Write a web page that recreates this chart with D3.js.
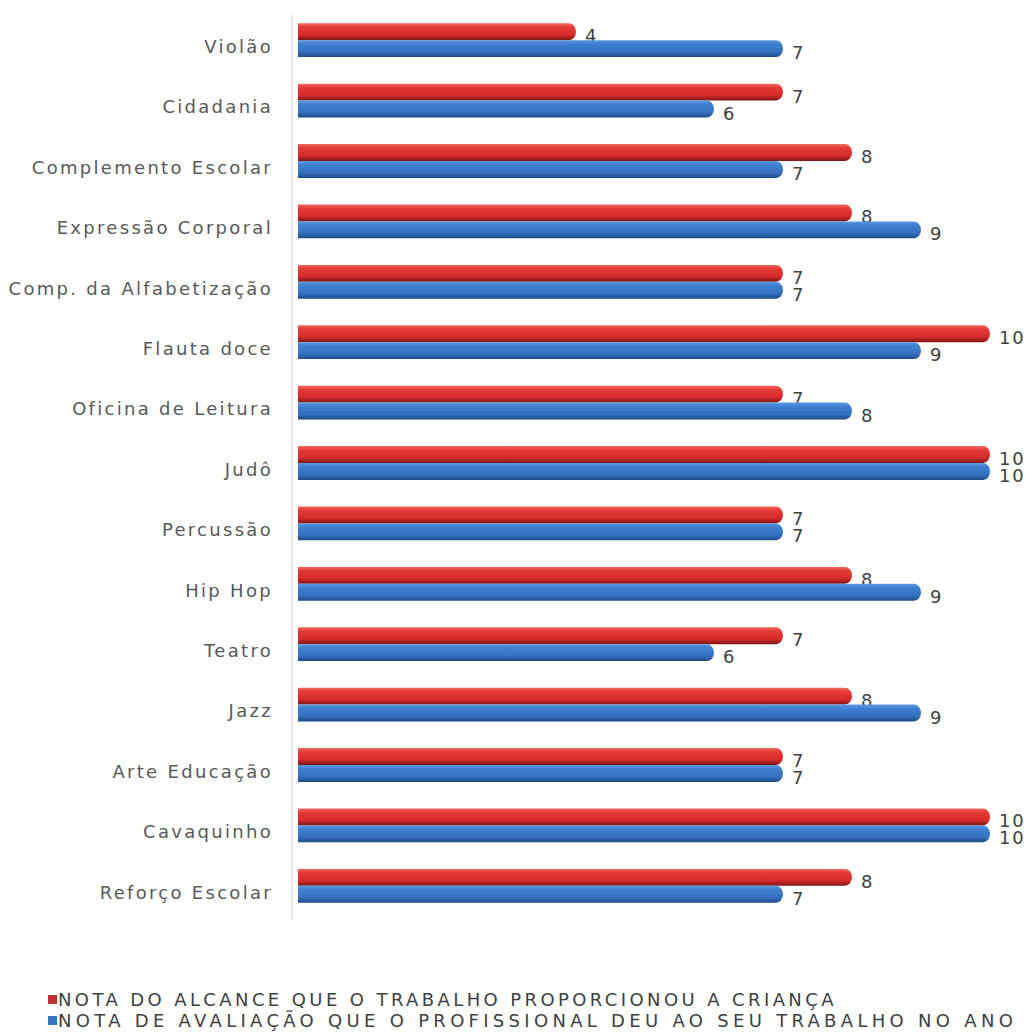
<!DOCTYPE html>
<html>
<head>
<meta charset="utf-8">
<script src="https://cdn.jsdelivr.net/npm/d3@7"></script>
<style>
  html, body { margin: 0; padding: 0; background: #fff; }
  svg { display: block; }
  text { font-family: "DejaVu Sans", Verdana, sans-serif; }
</style>
</head>
<body>
<div id="chart"></div>
<script>
// Oficinas e suas notas
const categories = [
  "Violão", "Cidadania", "Complemento Escolar", "Expressão Corporal",
  "Comp. da Alfabetização", "Flauta doce", "Oficina de Leitura", "Judô",
  "Percussão", "Hip Hop", "Teatro", "Jazz", "Arte Educação", "Cavaquinho",
  "Reforço Escolar"
];
const notaAlcance   = [4, 7, 8, 8, 7, 10, 7, 10, 7, 8, 7, 8, 7, 10, 8];
const notaAvaliacao = [7, 6, 7, 9, 7, 9, 8, 10, 7, 9, 6, 9, 7, 10, 7];
const seriesNames = [
  "NOTA DO ALCANCE QUE O TRABALHO PROPORCIONOU A CRIANÇA",
  "NOTA DE AVALIAÇÃO QUE O PROFISSIONAL DEU AO SEU TRABALHO NO ANO"
];
const seriesKeys = ["alcance", "avaliacao"];

const W = 1030, H = 1032;
const svg = d3.select("#chart").append("svg").attr("width", W).attr("height", H);

const data = categories.map((c, i) => ({
  cat: c, alcance: notaAlcance[i], avaliacao: notaAvaliacao[i]
}));

const x = d3.scaleLinear().domain([0, 10]).range([300, 990]);
const y = d3.scaleBand().domain(categories).range([10, 916])
  .paddingInner(0.44).paddingOuter(0.22);
const ySub = d3.scaleBand().domain(seriesKeys).range([0, y.bandwidth()]).padding(0);

// cylinder-like shading
const defs = svg.append("defs");
const palettes = {
  alcance:   [["0%", "#f26a5f"], ["22%", "#e63c37"], ["70%", "#d42a2a"], ["100%", "#7c1616"]],
  avaliacao: [["0%", "#5b9ae2"], ["22%", "#4080d0"], ["70%", "#3470c0"], ["100%", "#1d4a86"]]
};
seriesKeys.forEach(k => {
  const g = defs.append("linearGradient").attr("id", "grad-" + k)
    .attr("x1", 0).attr("y1", 0).attr("x2", 0).attr("y2", 1);
  palettes[k].forEach(([o, c]) => g.append("stop").attr("offset", o).attr("stop-color", c));
});
const legendColor = { alcance: "#c0302c", avaliacao: "#3a74c0" };
const legendSpacing = { alcance: 3.4, avaliacao: 4.3 };

// category axis
const axisG = svg.append("g")
  .attr("transform", `translate(292,0)`)
  .call(d3.axisLeft(y).tickSize(0).tickPadding(19));
axisG.select(".domain").attr("stroke", "#d9d9d9").attr("stroke-width", 1.2)
  .attr("d", "M0,15V920");
axisG.selectAll(".tick text")
  .attr("font-size", 18)
  .attr("fill", "#595959")
  .attr("letter-spacing", 2.3)
  .attr("dy", "0.32em")
  .attr("y", 7);

function barPath(x0, x1, y0, h) {
  const rx = Math.min(7, (x1 - x0) / 2), ry = h / 2;
  return `M${x0},${y0}H${x1 - rx}A${rx},${ry} 0 0 1 ${x1 - rx},${y0 + h}H${x0}Z`;
}

const groups = svg.append("g").selectAll("g").data(data).join("g")
  .attr("transform", d => `translate(0,${y(d.cat)})`);

// each series: bar then its value; the lower bar covers the label above it
seriesKeys.forEach(k => {
  groups.append("path")
    .attr("d", d => barPath(x(0) - 2, x(d[k]), ySub(k), ySub.bandwidth()))
    .attr("fill", `url(#grad-${k})`);
  groups.append("text")
    .attr("x", d => x(d[k]) + 9)
    .attr("y", d => ySub(k) + ySub.bandwidth() / 2 + 4)
    .attr("dy", "0.36em")
    .attr("font-size", 18)
    .attr("letter-spacing", 1.8)
    .attr("fill", "#404040")
    .text(d => d[k]);
});

// legend
const legend = svg.append("g").selectAll("g").data(seriesKeys).join("g")
  .attr("transform", (d, i) => `translate(48,${1000 + i * 21})`);
legend.append("rect").attr("x", 0).attr("y", -5).attr("width", 9).attr("height", 9)
  .attr("fill", d => legendColor[d]);
legend.append("text").attr("x", 10).attr("dy", "0.35em")
  .attr("font-size", 18).attr("fill", "#404040")
  .attr("letter-spacing", d => legendSpacing[d])
  .text((d, i) => seriesNames[i]);
</script>
</body>
</html>
